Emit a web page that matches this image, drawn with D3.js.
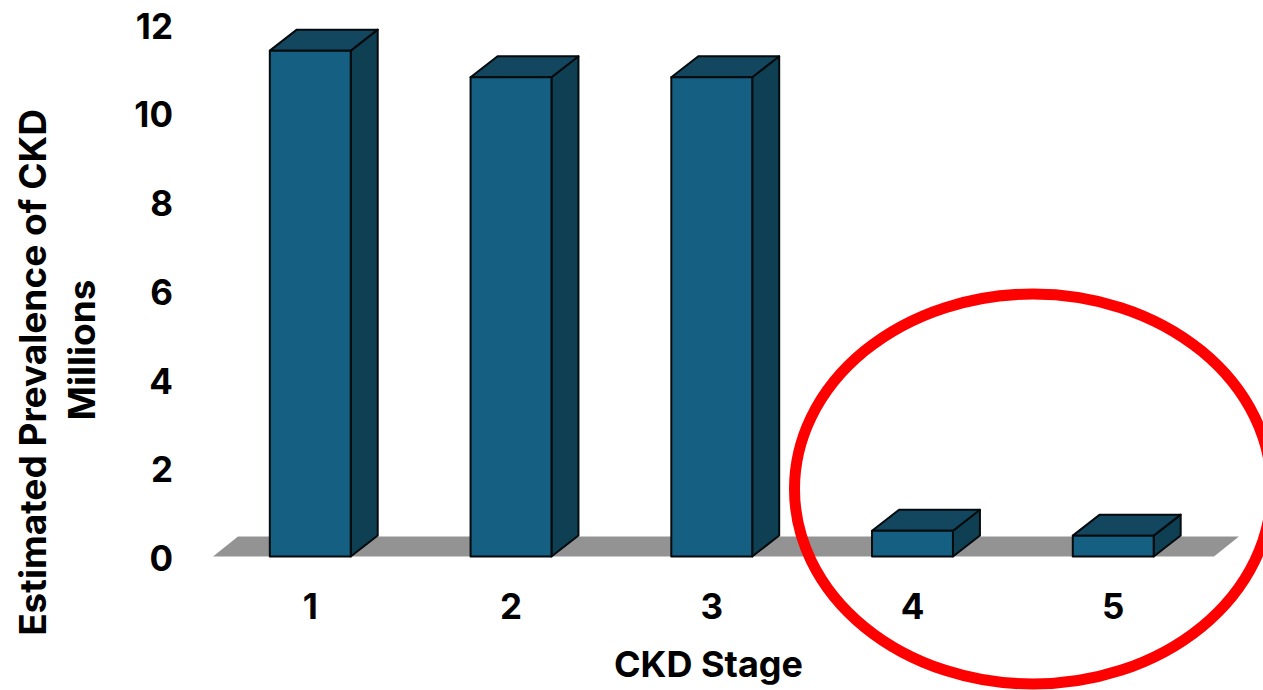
<!DOCTYPE html>
<html>
<head>
<meta charset="utf-8">
<script src="https://cdn.jsdelivr.net/npm/d3@7/dist/d3.min.js"></script>
<style>
html,body{margin:0;padding:0;background:#fff;overflow:hidden}
text{font-family:Inter,sans-serif;font-weight:700;fill:#000}
</style>
</head>
<body>
<svg id="chart" width="1263" height="690"></svg>
<script>
// CKD prevalence by stage, in millions
const stages = ["1", "2", "3", "4", "5"];
const prevalence = [11.4, 10.8, 10.8, 0.58, 0.47];
const yTicks = [0, 2, 4, 6, 8, 10, 12];

const svg = d3.select("#chart");
const x = d3.scaleBand().domain(stages).range([210, 1213.5]).paddingInner(0.597).paddingOuter(0.298);
const y = d3.scaleLinear().domain([0, 12]).range([556.5, 24]);

// Oblique depth of the 3D extrusion
const dx = 27, dy = -21;
const floorDx = 25, floorDy = -20;
const pts = a => a.map(p => p.join(",")).join(" ");

// Floor slab
svg.append("polygon")
  .attr("points", pts([[213, y(0)], [213 + floorDx, y(0) + floorDy], [1214 + floorDx, y(0) + floorDy], [1214, y(0)]]))
  .attr("fill", "#939393");

// Bars: side, top, then front face
const bars = svg.append("g").selectAll("g").data(stages.map((s, i) => ({s, v: prevalence[i]}))).join("g")
  .attr("stroke", "#050a0d").attr("stroke-width", 2).attr("stroke-linejoin", "round");
bars.append("polygon").attr("fill", "#0e3f52")
  .attr("points", d => { const r = x(d.s) + x.bandwidth(), t = y(d.v), b = y(0);
    return pts([[r, t], [r + dx, t + dy], [r + dx, b + dy], [r, b]]); });
bars.append("polygon").attr("fill", "#13475f")
  .attr("points", d => { const l = x(d.s), r = l + x.bandwidth(), t = y(d.v);
    return pts([[l, t], [l + dx, t + dy], [r + dx, t + dy], [r, t]]); });
bars.append("rect").attr("fill", "#156082")
  .attr("x", d => x(d.s)).attr("y", d => y(d.v))
  .attr("width", x.bandwidth()).attr("height", d => y(0) - y(d.v));

const labelFont = 'Inter,sans-serif';

// Value axis labels
const yAxis = d3.axisLeft(y).tickValues(yTicks).tickSize(0).tickPadding(0);
const yG = svg.append("g").attr("transform", "translate(173,3)").call(yAxis);
yG.select(".domain").remove();
yG.selectAll("text").attr("font-size", 35).style("font-family", labelFont).style("font-weight", 700);

// Stage axis labels
const xAxis = d3.axisBottom(x).tickSize(0).tickPadding(0);
const xG = svg.append("g").attr("transform", "translate(0,594)").call(xAxis);
xG.select(".domain").remove();
xG.selectAll("text").attr("font-size", 35).style("font-family", labelFont).style("font-weight", 700);

// Axis titles
svg.append("text").attr("x", 708.5).attr("y", 677).attr("text-anchor", "middle").attr("font-size", 36).text("CKD Stage");
svg.append("text").attr("transform", "translate(46,372.5) rotate(-90)").attr("text-anchor", "middle").attr("font-size", 37).text("Estimated Prevalence of CKD");
svg.append("text").attr("transform", "translate(95,350) rotate(-90)").attr("text-anchor", "middle").attr("font-size", 37).text("Millions");

// Highlight ring around stages 4 and 5
svg.append("ellipse").attr("cx", 1033).attr("cy", 489).attr("rx", 238.5).attr("ry", 195)
  .attr("fill", "none").attr("stroke", "#fe0000").attr("stroke-width", 11);
</script>
</body>
</html>
